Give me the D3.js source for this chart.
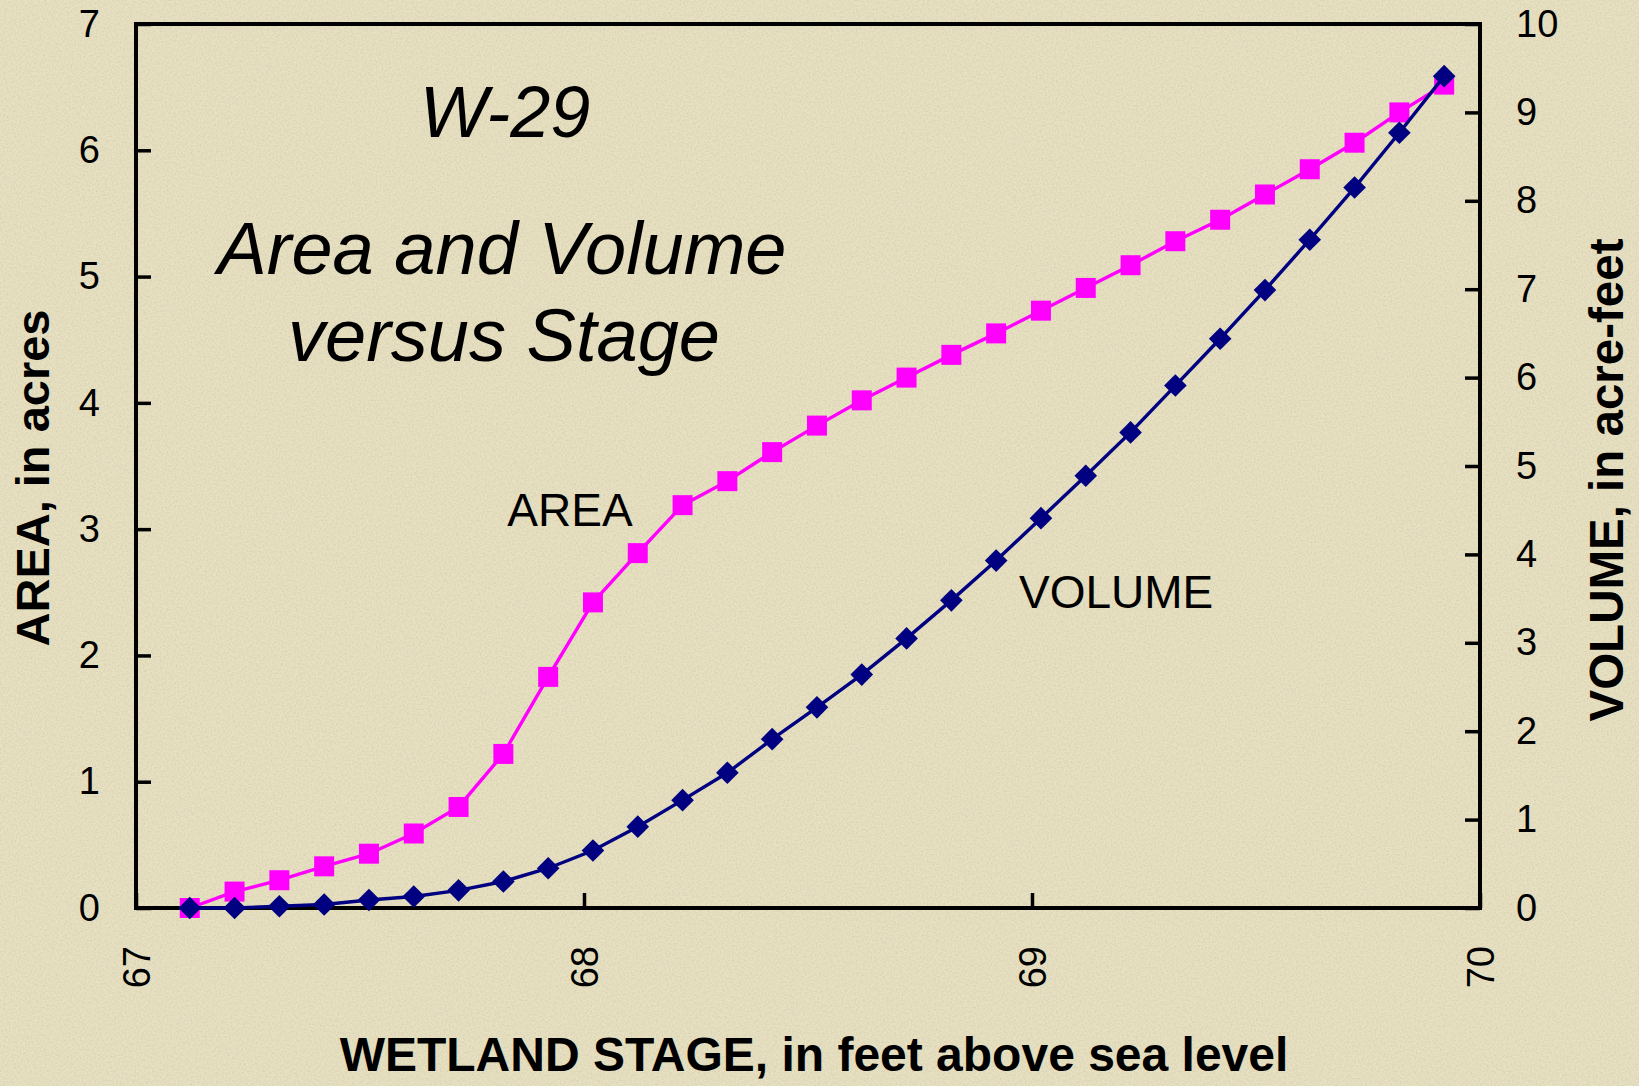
<!DOCTYPE html>
<html>
<head>
<meta charset="utf-8">
<script src="https://cdn.jsdelivr.net/npm/d3@7"></script>
<style>
  html, body { margin: 0; padding: 0; background: #e6dfbf; }
  svg { display: block; }
  text { font-family: "Liberation Sans", Arial, Helvetica, sans-serif; fill: #000; }
</style>
</head>
<body>
<svg id="chart" width="1639" height="1086"></svg>
<script>
// ---- Data ----
const stage = [67.12, 67.22, 67.32, 67.42, 67.52, 67.62, 67.72, 67.82, 67.92, 68.02,
               68.12, 68.22, 68.32, 68.42, 68.52, 68.62, 68.72, 68.82, 68.92, 69.02,
               69.12, 69.22, 69.32, 69.42, 69.52, 69.62, 69.72, 69.82, 69.92];
const area = [0.00, 0.13, 0.22, 0.33, 0.43, 0.59, 0.80, 1.22, 1.83, 2.42,
              2.81, 3.19, 3.38, 3.61, 3.82, 4.02, 4.20, 4.38, 4.55, 4.73,
              4.91, 5.09, 5.28, 5.45, 5.65, 5.85, 6.06, 6.30, 6.52];
const volume = [0.00, 0.00, 0.02, 0.04, 0.09, 0.13, 0.20, 0.30, 0.45, 0.65,
                0.92, 1.22, 1.53, 1.91, 2.27, 2.64, 3.05, 3.48, 3.93, 4.41,
                4.89, 5.38, 5.91, 6.44, 6.99, 7.56, 8.15, 8.77, 9.41];
const xTicks = [67, 68, 69, 70];
const areaTicks = [0, 1, 2, 3, 4, 5, 6, 7];
const volumeTicks = [0, 1, 2, 3, 4, 5, 6, 7, 8, 9, 10];
const titleLines = ["Area and Volume", "versus Stage"];
const chartId = "W-29";

// ---- Layout ----
const W = 1639, H = 1086;
const plot = { left: 136, right: 1480, top: 24, bottom: 908 };

const svg = d3.select("#chart");

// Background with a parchment-like texture
const defs = svg.append("defs");
const f = defs.append("filter").attr("id", "paper").attr("x", 0).attr("y", 0)
  .attr("width", "100%").attr("height", "100%");
f.append("feTurbulence").attr("type", "fractalNoise").attr("baseFrequency", "0.55")
  .attr("numOctaves", 2).attr("seed", 3).attr("result", "noise");
f.append("feColorMatrix").attr("in", "noise").attr("type", "matrix")
  .attr("values", "0 0 0 0 0.45  0 0 0 0 0.42  0 0 0 0 0.30  0 0 0 -1.6 1.0");
svg.append("rect").attr("width", W).attr("height", H).attr("fill", "#e7e0c1");
svg.append("rect").attr("width", W).attr("height", H).attr("filter", "url(#paper)").attr("opacity", 0.35);

// ---- Scales ----
const x = d3.scaleLinear().domain([67, 70]).range([plot.left, plot.right]);
const yA = d3.scaleLinear().domain([0, 7]).range([plot.bottom, plot.top]);
const yV = d3.scaleLinear().domain([0, 10]).range([plot.bottom, plot.top]);

// ---- Axes (ticks inward) ----
const tickFont = 38;
const intFmt = d3.format("d");
const gL = svg.append("g").attr("transform", `translate(${plot.left},0)`)
  .call(d3.axisLeft(yA).tickValues(areaTicks).tickFormat(intFmt).tickSizeInner(-15).tickSizeOuter(0).tickPadding(36));
const gR = svg.append("g").attr("transform", `translate(${plot.right},0)`)
  .call(d3.axisRight(yV).tickValues(volumeTicks).tickFormat(intFmt).tickSizeInner(-15).tickSizeOuter(0).tickPadding(36));
const gB = svg.append("g").attr("transform", `translate(0,${plot.bottom})`)
  .call(d3.axisBottom(x).tickValues(xTicks).tickFormat(intFmt).tickSizeInner(-15).tickSizeOuter(0));

[gL, gR, gB].forEach(g => {
  g.select(".domain").remove();
  g.selectAll(".tick line").attr("stroke", "#000").attr("stroke-width", 3.5);
  g.selectAll(".tick text").attr("font-size", tickFont).attr("fill", "#000")
    .style("font-family", '"Liberation Sans", Arial, sans-serif');
});
gB.selectAll(".tick text")
  .attr("transform", "rotate(-90)")
  .attr("x", -38).attr("y", 0).attr("dy", "0.35em")
  .attr("text-anchor", "end");

// Plot frame
svg.append("rect")
  .attr("x", plot.left).attr("y", plot.top)
  .attr("width", plot.right - plot.left).attr("height", plot.bottom - plot.top)
  .attr("fill", "none").attr("stroke", "#000").attr("stroke-width", 4);

// ---- Series ----
const areaPts = stage.map((s, i) => [s, area[i]]);
const volPts = stage.map((s, i) => [s, volume[i]]);

svg.append("path").datum(areaPts)
  .attr("fill", "none").attr("stroke", "#ff00ff").attr("stroke-width", 3.4)
  .attr("d", d3.line().x(d => x(d[0])).y(d => yA(d[1])));
svg.append("g").selectAll("path").data(areaPts).join("path")
  .attr("transform", d => `translate(${x(d[0])},${yA(d[1])})`)
  .attr("d", d3.symbol().type(d3.symbolSquare).size(20 * 20))
  .attr("fill", "#ff00ff");

svg.append("path").datum(volPts)
  .attr("fill", "none").attr("stroke", "#000080").attr("stroke-width", 3.4)
  .attr("d", d3.line().x(d => x(d[0])).y(d => yV(d[1])));
svg.append("g").selectAll("path").data(volPts).join("path")
  .attr("transform", d => `translate(${x(d[0])},${yV(d[1])}) rotate(45)`)
  .attr("d", d3.symbol().type(d3.symbolSquare).size(16 * 16))
  .attr("fill", "#000080");

// ---- Titles and labels ----
svg.append("text").attr("x", 505).attr("y", 137).attr("text-anchor", "middle")
  .attr("font-size", 72).attr("font-style", "italic").text(chartId);
svg.append("text").attr("x", 502).attr("y", 274).attr("text-anchor", "middle")
  .attr("font-size", 74).attr("font-style", "italic").text(titleLines[0]);
svg.append("text").attr("x", 504).attr("y", 361).attr("text-anchor", "middle")
  .attr("font-size", 74).attr("font-style", "italic").text(titleLines[1]);

svg.append("text").attr("x", 570).attr("y", 526).attr("text-anchor", "middle")
  .attr("font-size", 46).text("AREA");
svg.append("text").attr("x", 1019).attr("y", 608).attr("text-anchor", "start")
  .attr("font-size", 46).text("VOLUME");

svg.append("text").attr("transform", "translate(33,478) rotate(-90)")
  .attr("text-anchor", "middle").attr("dy", "0.35em")
  .attr("font-size", 47).attr("font-weight", "bold").text("AREA, in acres");
svg.append("text").attr("transform", "translate(1606,480) rotate(-90)")
  .attr("text-anchor", "middle").attr("dy", "0.35em")
  .attr("font-size", 47.5).attr("font-weight", "bold").text("VOLUME, in acre-feet");
svg.append("text").attr("x", 814).attr("y", 1071).attr("text-anchor", "middle")
  .attr("font-size", 48).attr("font-weight", "bold").text("WETLAND STAGE, in feet above sea level");
</script>
</body>
</html>
